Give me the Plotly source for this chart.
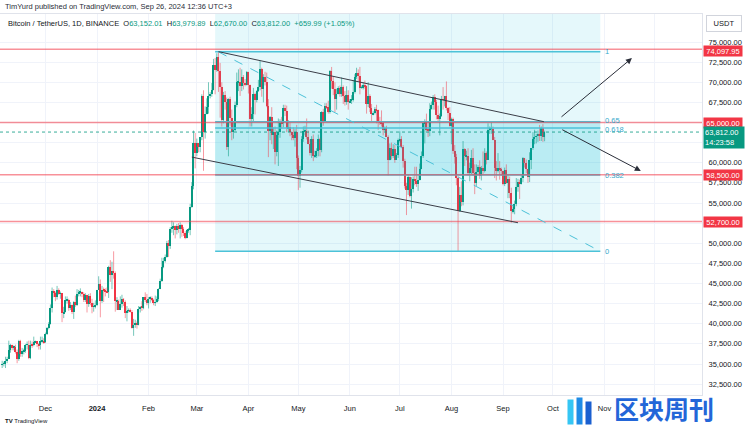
import numpy as np
import pandas as pd
import plotly.graph_objects as go

# ---------------- DATA (thousands of USDT, daily, BINANCE BTC/USDT) ----------------
START_DATE = "2023-11-05"
FIRST_OPEN = 34.9

nov_c = [35.0, 35.0, 35.4, 35.6, 36.7, 37.3, 37.1, 37.1, 36.5, 35.6, 37.9, 36.2, 36.6, 36.6, 37.4, 37.4, 35.7, 37.4, 37.3, 37.7, 37.8, 37.5, 37.3, 37.8, 37.9, 37.7]
nov_h = [35.4, 35.3, 35.9, 35.9, 37.9, 37.5, 37.4, 37.3, 37.4, 36.8, 38.0, 38.0, 37.0, 36.9, 37.5, 37.8, 37.9, 37.9, 37.8, 38.4, 37.9, 37.8, 37.6, 38.4, 38.4, 38.2]
nov_l = [34.5, 34.7, 34.5, 35.1, 35.6, 36.4, 36.7, 36.7, 36.3, 35.1, 35.4, 35.9, 35.9, 36.2, 36.4, 36.8, 35.6, 35.6, 37.0, 37.2, 37.6, 37.1, 36.8, 36.8, 37.6, 37.5]

dec_c = [38.7, 39.5, 40.0, 42.0, 44.1, 43.8, 43.3, 44.2, 43.7, 43.8, 41.3, 41.5, 42.9, 43.0, 41.9, 42.3, 41.4, 42.7, 42.3, 43.7, 43.9, 44.0, 43.7, 43.0, 43.6, 42.5, 43.4, 42.6, 42.1, 42.1, 42.3]
dec_h = [38.9, 39.6, 40.2, 42.4, 44.5, 44.3, 44.0, 44.7, 44.4, 44.0, 43.8, 42.1, 43.4, 43.4, 43.1, 42.7, 42.4, 42.8, 43.5, 44.3, 44.2, 44.4, 44.0, 43.9, 43.8, 43.6, 43.7, 43.8, 43.1, 42.6, 42.9]
dec_l = [37.6, 38.6, 39.3, 39.9, 41.4, 43.3, 42.8, 43.0, 43.6, 43.1, 40.2, 40.7, 41.4, 42.5, 41.6, 41.7, 41.2, 40.6, 42.1, 42.2, 43.4, 43.4, 43.3, 42.7, 42.7, 41.4, 42.1, 42.3, 41.3, 41.5, 41.9]

jan_c = [44.2, 44.9, 42.8, 44.2, 44.1, 44.0, 43.9, 47.0, 46.1, 46.6, 46.3, 42.8, 42.8, 41.7, 42.5, 43.1, 42.7, 41.3, 41.6, 41.7, 41.5, 39.5, 39.8, 40.1, 39.9, 41.8, 42.1, 42.0, 43.3, 43.0, 42.6]
jan_h = [44.2, 45.9, 45.5, 44.7, 44.5, 44.4, 44.5, 47.2, 47.9, 47.7, 49.0, 46.5, 43.3, 43.0, 43.4, 43.6, 43.2, 42.9, 42.2, 41.9, 41.9, 41.7, 40.6, 40.5, 40.3, 42.2, 42.2, 42.8, 43.3, 43.9, 43.7]
jan_l = [42.2, 44.2, 40.8, 42.6, 42.7, 43.4, 43.8, 43.2, 45.2, 44.3, 45.6, 41.5, 41.7, 41.7, 41.7, 42.0, 42.2, 40.7, 40.3, 41.4, 41.4, 39.4, 38.5, 39.5, 39.4, 39.8, 41.4, 41.6, 41.8, 42.7, 42.3]

feb_c = [43.1, 43.2, 43.0, 42.6, 42.7, 43.1, 44.3, 45.3, 47.1, 47.8, 48.3, 50.0, 49.7, 51.8, 51.9, 52.2, 51.7, 52.1, 51.8, 52.3, 51.8, 51.3, 50.7, 51.6, 51.7, 54.5, 57.1, 62.5, 61.2]
feb_h = [43.3, 43.4, 43.4, 43.1, 43.5, 43.4, 44.4, 45.6, 48.2, 48.2, 48.6, 50.3, 50.4, 52.0, 52.8, 52.6, 52.2, 52.4, 52.5, 52.6, 52.4, 52.0, 51.5, 51.7, 51.9, 54.9, 57.6, 64.0, 63.7]
feb_l = [41.9, 42.6, 42.8, 42.3, 42.2, 42.6, 42.8, 44.3, 45.2, 46.9, 47.6, 48.2, 48.3, 49.3, 51.3, 51.0, 50.6, 51.1, 51.3, 50.6, 50.8, 50.9, 50.5, 50.6, 51.3, 51.0, 54.4, 56.7, 59.3]

mar_c = [62.4, 62.0, 63.2, 68.3, 63.8, 66.1, 66.9, 68.3, 68.5, 69.0, 72.1, 71.5, 73.1, 71.4, 69.4, 65.3, 68.4, 67.5, 61.9, 67.9, 65.5, 63.8, 64.1, 67.2, 70.0, 70.0, 69.5, 70.7, 69.9, 69.6, 71.3]
mar_h = [63.0, 62.4, 63.2, 68.5, 69.0, 67.0, 68.0, 70.0, 68.8, 69.9, 72.9, 73.0, 73.6, 73.8, 72.4, 70.0, 68.8, 68.9, 68.1, 68.0, 68.2, 66.6, 65.0, 67.6, 71.2, 71.6, 71.8, 71.6, 70.9, 70.4, 71.4]
mar_l = [60.8, 61.3, 61.3, 62.8, 59.0, 63.0, 66.0, 66.1, 68.0, 68.2, 69.0, 68.5, 71.3, 68.8, 65.6, 64.5, 64.9, 66.6, 61.6, 60.8, 64.6, 62.8, 63.0, 63.9, 66.9, 68.9, 68.3, 68.9, 69.1, 69.5, 69.6]

apr_c = [69.7, 65.4, 66.0, 68.5, 67.8, 68.9, 69.4, 71.6, 69.1, 70.6, 70.0, 67.1, 63.9, 65.7, 63.4, 63.8, 61.3, 63.5, 63.8, 65.0, 64.9, 66.8, 66.4, 64.3, 64.5, 63.8, 63.4, 63.1, 63.8, 60.6]
apr_h = [71.3, 69.7, 66.9, 69.3, 68.7, 69.0, 70.3, 72.7, 71.8, 71.0, 71.3, 71.2, 67.9, 65.8, 66.9, 64.4, 64.5, 64.0, 65.5, 65.4, 65.7, 67.2, 67.2, 67.1, 65.3, 65.0, 63.9, 64.4, 64.2, 64.7]
apr_l = [68.6, 64.5, 64.5, 65.1, 66.0, 67.5, 68.8, 69.0, 68.2, 67.5, 69.6, 66.9, 60.7, 62.8, 62.3, 61.7, 59.8, 60.8, 59.6, 63.1, 64.2, 64.4, 65.8, 63.8, 63.8, 63.3, 62.8, 62.8, 62.0, 59.2]

may_c = [58.3, 59.1, 62.9, 63.9, 64.0, 63.2, 62.3, 61.2, 63.0, 60.8, 60.8, 61.4, 62.9, 61.6, 66.3, 65.2, 67.1, 66.9, 66.3, 71.4, 70.1, 69.1, 67.9, 68.5, 69.3, 68.5, 69.4, 68.3, 67.6, 68.4, 67.5]
may_h = [60.9, 59.6, 63.3, 64.5, 64.6, 65.5, 64.0, 62.9, 63.3, 63.5, 61.5, 61.8, 63.5, 63.1, 66.4, 66.7, 67.4, 67.4, 67.7, 71.5, 71.9, 70.7, 70.0, 69.2, 69.5, 69.6, 70.6, 69.6, 68.9, 69.5, 69.0]
may_l = [56.6, 56.9, 58.8, 62.6, 63.4, 62.9, 62.3, 60.9, 60.6, 60.2, 60.6, 60.6, 60.8, 60.8, 61.3, 64.6, 65.1, 66.7, 66.1, 66.1, 69.2, 68.4, 66.3, 66.6, 68.5, 68.2, 68.2, 67.3, 67.1, 67.2, 66.6]

jun_c = [67.7, 67.8, 68.8, 70.6, 71.1, 70.8, 69.3, 69.3, 69.6, 69.5, 67.3, 68.3, 66.8, 66.0, 66.2, 66.7, 66.5, 65.2, 65.0, 64.9, 64.1, 64.3, 63.2, 60.3, 61.8, 60.9, 61.7, 60.4, 61.0, 62.8]
jun_h = [67.9, 68.4, 70.3, 71.0, 71.8, 71.6, 71.9, 69.6, 70.0, 70.2, 69.6, 70.0, 68.5, 67.3, 66.4, 66.9, 67.2, 66.6, 65.7, 66.5, 65.1, 64.5, 64.6, 63.4, 62.4, 62.5, 62.3, 62.2, 61.2, 63.0]
jun_l = [67.4, 67.3, 67.6, 68.6, 70.4, 70.1, 68.5, 69.2, 69.1, 69.2, 66.1, 66.9, 66.3, 65.1, 65.9, 66.0, 64.9, 64.1, 64.7, 64.5, 63.4, 63.9, 63.2, 58.4, 60.6, 60.4, 60.6, 60.0, 60.4, 60.6]

jul_c = [62.9, 62.0, 60.2, 57.1, 56.6, 58.2, 55.9, 56.7, 58.0, 57.7, 57.3, 57.9, 59.2, 60.8, 64.9, 65.1, 64.1, 64.0, 66.7, 67.2, 68.2, 67.6, 65.9, 65.4, 65.8, 67.9, 67.8, 68.3, 66.8, 66.2, 64.6]
jul_h = [63.9, 63.3, 62.2, 60.5, 57.5, 58.5, 58.3, 58.2, 58.3, 59.5, 59.5, 58.5, 59.9, 61.4, 64.9, 65.4, 66.1, 65.1, 67.4, 67.6, 68.4, 68.5, 67.8, 67.1, 66.1, 68.3, 69.4, 68.3, 70.1, 66.9, 66.9]
jul_l = [62.5, 61.8, 59.4, 56.8, 53.5, 56.0, 55.7, 54.3, 56.3, 57.2, 57.0, 56.5, 57.8, 59.4, 60.6, 62.4, 63.9, 63.2, 63.3, 66.6, 66.6, 66.6, 65.4, 65.1, 63.4, 65.7, 66.6, 67.0, 66.5, 65.3, 64.5]

aug_c = [65.4, 61.4, 60.7, 58.1, 54.0, 56.0, 55.1, 61.7, 60.8, 60.9, 58.7, 59.3, 60.6, 58.7, 57.5, 58.9, 59.5, 58.4, 59.4, 59.0, 61.2, 60.4, 64.1, 64.2, 64.2, 62.8, 59.4, 59.0, 59.4, 59.1, 59.0]
aug_h = [65.6, 65.6, 62.2, 61.1, 58.3, 57.0, 57.7, 62.7, 61.8, 61.5, 61.8, 60.0, 61.6, 61.8, 59.8, 59.8, 59.7, 60.3, 59.6, 61.4, 61.8, 61.4, 64.9, 64.5, 65.0, 64.5, 63.2, 60.2, 61.2, 60.2, 59.4]
aug_l = [62.3, 61.1, 59.9, 57.2, 49.0, 53.9, 54.6, 54.7, 59.6, 60.3, 58.4, 57.7, 58.6, 58.4, 56.1, 57.1, 58.6, 58.0, 57.8, 58.6, 58.8, 59.8, 60.4, 63.6, 63.6, 62.8, 58.1, 57.8, 58.8, 57.9, 58.4]

sep_c = [57.3, 59.1, 57.5, 58.0, 56.2, 54.0, 54.2, 54.9, 57.0, 57.6, 57.3, 58.1, 60.6, 60.0, 59.2, 58.2, 60.3, 61.8, 62.9, 63.2, 63.3, 63.6, 63.3, 64.3, 63.15201, 63.812]
sep_h = [59.0, 59.4, 59.8, 58.5, 58.3, 56.9, 54.8, 55.3, 58.1, 58.0, 57.9, 58.5, 60.7, 60.6, 60.4, 59.2, 61.3, 61.8, 63.8, 64.1, 63.6, 64.0, 64.7, 64.5, 64.8, 63.97989]
sep_l = [57.2, 57.1, 57.4, 55.6, 55.6, 52.55, 53.7, 53.6, 54.6, 56.4, 55.5, 57.3, 57.6, 59.4, 58.7, 57.5, 57.6, 59.2, 61.6, 62.3, 62.4, 62.6, 62.7, 62.7, 62.6, 62.67]

# Key levels
RED_LEVELS = [74097.95, 65000.00, 58500.00, 52700.00]
LAST_PRICE = 63812.00
LAST_TIMER = "14:23:58"
FIB_LOW, FIB_HIGH = 49000.0, 73777.0
FIB_RATIOS = [1.0, 0.65, 0.618, 0.382, 0.0]
FIB_LABELS = ["1", "0.65", "0.618", "0.382", "0"]
FIB_LABEL_SHIFT = [0, 1.5, -1.5, 0, 0]
FIB_START, FIB_END = "2024-03-12", "2024-10-29 12:00"
CH_UP = [("2024-03-14", 73800), ("2024-09-25 14:00", 65100)]
CH_DN = [("2024-02-27", 60700), ("2024-09-10", 52550)]
ARROW_UP = [("2024-10-05 06:00", 65550), ("2024-11-17 12:00", 73000)]
ARROW_DN = [("2024-10-05 18:00", 64200), ("2024-11-22 20:00", 58980)]
MONTH_TICKS = ["2023-12-01", "2024-01-01", "2024-02-01", "2024-03-01", "2024-04-01", "2024-05-01",
               "2024-06-01", "2024-07-01", "2024-08-01", "2024-09-01", "2024-10-01", "2024-11-01", "2024-12-01"]
MONTH_TEXT = ["Dec", "<b>2024</b>", "Feb", "Mar", "Apr", "May", "Jun", "Jul", "Aug", "Sep", "Oct", "Nov", ""]
Y_TICKS = list(range(32500, 75001, 2500))
Y_HIDDEN = [65000, 62500, 52500]   # covered by price labels in the reference

# ---------------- BUILD ----------------
closes = np.array(nov_c + dec_c + jan_c + feb_c + mar_c + apr_c + may_c + jun_c + jul_c + aug_c + sep_c) * 1000
highs = np.array(nov_h + dec_h + jan_h + feb_h + mar_h + apr_h + may_h + jun_h + jul_h + aug_h + sep_h) * 1000
lows = np.array(nov_l + dec_l + jan_l + feb_l + mar_l + apr_l + may_l + jun_l + jul_l + aug_l + sep_l) * 1000
opens = np.concatenate([[FIRST_OPEN * 1000], closes[:-1]])
highs = np.maximum(highs, np.maximum(opens, closes))
lows = np.minimum(lows, np.minimum(opens, closes))
dates = pd.date_range(START_DATE, periods=len(closes), freq="D")

UP, DN = "#089981", "#f23645"
UP_W, DN_W = "rgba(8,153,129,0.55)", "rgba(242,54,69,0.5)"
FIB_C = "#4cc2d8"
Y_TOP, Y_BOT = 78478, 31149

up = closes >= opens
fib_vals = [FIB_LOW + r * (FIB_HIGH - FIB_LOW) for r in FIB_RATIOS]


def wick_xy(mask):
    xs, ys = [], []
    for d, h, l in zip(dates[mask], highs[mask], lows[mask]):
        xs += [d, d, None]
        ys += [l, h, None]
    return xs, ys


def box(x0, x1, y0, y1, color):
    return go.Scatter(x=[x0, x1, x1, x0, x0], y=[y0, y0, y1, y1, y0], mode="lines", fill="toself",
                      fillcolor=color, line=dict(width=0), hoverinfo="skip", showlegend=False)


fig = go.Figure()
fig.add_trace(box(FIB_START, FIB_END, FIB_LOW, Y_TOP, "rgba(0,188,212,0.10)"))
fig.add_trace(box(FIB_START, FIB_END, FIB_LOW + 0.382 * (FIB_HIGH - FIB_LOW),
                  FIB_LOW + 0.65 * (FIB_HIGH - FIB_LOW), "rgba(0,188,212,0.19)"))

for mask, col in [(up, UP_W), (~up, DN_W)]:
    wx, wy = wick_xy(mask)
    fig.add_trace(go.Scatter(x=wx, y=wy, mode="lines", line=dict(color=col, width=1),
                             hoverinfo="skip", showlegend=False))

body_h = np.maximum(np.abs(closes - opens), 60)
fig.add_trace(go.Bar(x=dates, y=body_h, base=np.minimum(opens, closes),
                     marker=dict(color=[UP if u else DN for u in up], line=dict(width=0)),
                     width=0.8 * 86400000, showlegend=False))

shapes = []
shapes.append(dict(type="line", xref="paper", yref="y", x0=0, x1=1, y0=LAST_PRICE, y1=LAST_PRICE,
                   line=dict(color="rgba(8,153,129,0.8)", width=1, dash="dot")))
for v in fib_vals:
    shapes.append(dict(type="line", xref="x", yref="y", x0=FIB_START, x1=FIB_END, y0=v, y1=v,
                       line=dict(color=FIB_C, width=1.5)))
for v in RED_LEVELS:
    shapes.append(dict(type="line", xref="paper", yref="y", x0=0, x1=1, y0=v, y1=v,
                       line=dict(color="rgba(242,54,69,0.55)", width=1.5)))
shapes.append(dict(type="line", xref="x", yref="y", x0="2024-03-14", y0=FIB_HIGH, x1=FIB_END, y1=FIB_LOW,
                   line=dict(color=FIB_C, width=1, dash="dash")))
for (a, b) in [CH_UP, CH_DN]:
    shapes.append(dict(type="line", xref="x", yref="y", x0=a[0], y0=a[1], x1=b[0], y1=b[1],
                       line=dict(color="#3a3d47", width=1)))

annotations = []
for v, t, s in zip(fib_vals, FIB_LABELS, FIB_LABEL_SHIFT):
    annotations.append(dict(x=FIB_END, y=v, xref="x", yref="y", text=t, showarrow=False,
                            xanchor="left", yanchor="middle", xshift=3, yshift=s,
                            font=dict(size=7.5, color="#35a9cc")))
for (a, b) in [ARROW_UP, ARROW_DN]:
    annotations.append(dict(x=b[0], y=b[1], ax=a[0], ay=a[1], xref="x", yref="y", axref="x", ayref="y",
                            text="", showarrow=True, arrowhead=2, arrowsize=1.2, arrowwidth=1,
                            arrowcolor="#2a2e39"))
for i, v in enumerate(RED_LEVELS):
    annotations.append(dict(x=1, y=v, xref="paper", yref="y", text=f"{v:,.2f}", showarrow=False,
                            xanchor="left", yanchor="middle", xshift=1, yshift=-1.5 if i == 0 else 0,
                            bgcolor="#f23645", borderpad=0, width=38, height=10,
                            font=dict(size=7.5, color="white")))
annotations.append(dict(x=1, y=LAST_PRICE, xref="paper", yref="y", text=f"{LAST_PRICE:,.2f}<br>{LAST_TIMER}",
                        showarrow=False, xanchor="left", yanchor="top", yshift=6, xshift=1, bgcolor="#089981",
                        borderpad=1, width=38, align="left", font=dict(size=7.5, color="white")))

G = "#089981"
hdr = ("Bitcoin / TetherUS, 1D, BINANCE&nbsp;&nbsp;O<span style='color:%s'>63,152.01</span>&nbsp;&nbsp;"
       "H<span style='color:%s'>63,979.89</span>&nbsp;&nbsp;L<span style='color:%s'>62,670.00</span>&nbsp;&nbsp;"
       "C<span style='color:%s'>63,812.00</span>&nbsp;&nbsp;<span style='color:%s'>+659.99 (+1.05%%)</span>") % (G, G, G, G, G)
annotations.append(dict(x=0.009, y=0.976, xref="paper", yref="paper", text=hdr, showarrow=False,
                        xanchor="left", yanchor="middle", font=dict(size=7.5, color="#131722")))
annotations.append(dict(x=0.004, y=1.019, xref="paper", yref="paper",
                        text="TimYurd published on TradingView.com, Sep 26, 2024 12:36 UTC+3",
                        showarrow=False, xanchor="left", yanchor="middle", font=dict(size=7.5, color="#2a2e39")))
annotations.append(dict(x=1.031, y=0.974, xref="paper", yref="paper", text="USDT", showarrow=False,
                        xanchor="center", yanchor="middle",
                        font=dict(size=7.5, color="#131722"), bordercolor="#d1d4dc", borderwidth=1,
                        borderpad=3, width=28, bgcolor="white"))
annotations.append(dict(x=0.004, y=-0.068, xref="paper", yref="paper", text="<b>TV</b> TradingView",
                        showarrow=False, xanchor="left", yanchor="middle", font=dict(size=6, color="#131722")))
annotations.append(dict(x=664 / 702, y=(395 - 408) / 381, xref="paper", yref="paper", text="<b>区块周刊</b>",
                        showarrow=False, xanchor="center", yanchor="middle",
                        font=dict(size=25, color="#2366d8", family="Noto Sans CJK SC")))
for xc, yc, w, h, c in [(570, 412, 5, 24, "#35c6f4"), (579, 411, 5, 26, "#1f8be6"), (588, 413, 5, 22, "#1a5fd0")]:
    annotations.append(dict(x=xc / 702, y=(395 - yc) / 381, xref="paper", yref="paper", text="",
                            showarrow=False, xanchor="center", yanchor="middle", width=w, height=h,
                            bgcolor=c, borderpad=0))

x0_range = pd.Timestamp("2024-01-01") - pd.Timedelta(days=58.3)
x1_range = pd.Timestamp("2024-01-01") + pd.Timedelta(days=363.6)

fig.update_layout(
    width=745, height=425, margin=dict(l=0, r=43, t=14, b=30),
    paper_bgcolor="white", plot_bgcolor="white",
    font=dict(family="Liberation Sans, Arial", size=7.5, color="#131722"),
    shapes=shapes, annotations=annotations, bargap=0, showlegend=False,
    xaxis=dict(type="date", range=[x0_range, x1_range], tickvals=MONTH_TICKS, ticktext=MONTH_TEXT,
               showgrid=True, gridcolor="#f0f3fa", gridwidth=1, zeroline=False, ticks="",
               showline=True, linecolor="#e0e3eb", mirror=True, ticklabelstandoff=6,
               tickfont=dict(size=7.5, color="#131722"), rangeslider=dict(visible=False)),
    yaxis=dict(side="right", range=[Y_BOT, Y_TOP], tickvals=Y_TICKS,
               ticktext=["" if v in Y_HIDDEN else f"{v:,.2f}" for v in Y_TICKS],
               showgrid=True, gridcolor="#f0f3fa", gridwidth=1, zeroline=False, ticks="",
               showline=True, linecolor="#e0e3eb", mirror=True, ticklabelstandoff=4,
               tickfont=dict(size=7.5, color="#131722")),
)

fig.write_html("out.html")
